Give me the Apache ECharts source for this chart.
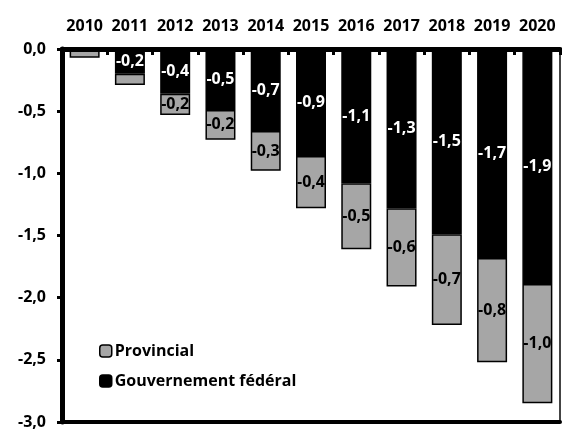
<!DOCTYPE html>
<html><head><meta charset="utf-8">
<script src="https://cdn.jsdelivr.net/npm/echarts@6/dist/echarts.min.js"></script>
<style>html,body{margin:0;padding:0;background:#fff}#c{width:562px;height:430px}</style>
</head><body><div id="c"></div>
<script>
var years = ['2010','2011','2012','2013','2014','2015','2016','2017','2018','2019','2020'];
var federal = [-0.01,-0.2,-0.36,-0.49,-0.66,-0.86,-1.08,-1.28,-1.49,-1.68,-1.89];
var provincial = [-0.06,-0.09,-0.17,-0.24,-0.32,-0.42,-0.53,-0.63,-0.73,-0.84,-0.96];
var yMin = -3.0, yMax = 0, yStep = 0.5;
var FONT = 'Open Sans';
function fmt(v){ return v.toFixed(1).replace('.', ','); }
function lab(p){ return Math.abs(p.value) < 0.15 ? '' : fmt(p.value); }
var chart = echarts.init(document.getElementById('c'), null, {renderer:'canvas'});
chart.setOption({
  animation:false,
  textStyle:{fontFamily:FONT},
  grid:{left:62, right:2, top:49, bottom:4, containLabel:false},
  legend:{
    orient:'vertical', left:94, top:338, itemWidth:12, itemHeight:12, itemGap:14, padding:5,
    data:['Provincial','Gouvernement fédéral'],
    textStyle:{fontFamily:FONT, fontWeight:'bold', fontSize:16, color:'#000', padding:[0,0,0,-2]},
    itemStyle:{borderColor:'#000', borderWidth:1.5}
  },
  xAxis:[{
    type:'category', data:years, position:'top', z:10,
    axisLine:{show:true, onZero:false, lineStyle:{color:'#000', width:5}},
    axisTick:{show:true, inside:true, length:6, lineStyle:{color:'#000', width:3}},
    axisLabel:{interval:0, fontFamily:FONT, fontWeight:'bold', fontSize:16, color:'#000', margin:15}
  },{
    type:'category', data:years, position:'bottom',
    axisLine:{show:true, onZero:false, lineStyle:{color:'#000', width:4}},
    axisTick:{show:false}, axisLabel:{show:false}
  }],
  yAxis:[{
    type:'value', min:yMin, max:yMax, interval:yStep, position:'left',
    splitLine:{show:false},
    axisLine:{show:true, onZero:false, lineStyle:{color:'#000', width:5}},
    axisTick:{show:true, length:5, lineStyle:{color:'#000', width:3}},
    axisLabel:{fontFamily:FONT, fontWeight:'bold', fontSize:16, color:'#000', margin:16, formatter:function(v){return fmt(v);}}
  },{
    type:'value', min:yMin, max:yMax, interval:yStep, position:'right',
    splitLine:{show:false},
    axisLine:{show:true, onZero:false, lineStyle:{color:'#444', width:2}},
    axisTick:{show:false}, axisLabel:{show:false}
  }],
  series:[{
    name:'Gouvernement fédéral', type:'bar', stack:'t', data:federal, barWidth:30,
    itemStyle:{color:'#000', borderColor:'#000', borderWidth:1.5},
    label:{show:true, position:'inside', color:'#fff', fontFamily:FONT, fontWeight:'bold', fontSize:16, formatter:lab}
  },{
    name:'Provincial', type:'bar', stack:'t', data:provincial, barWidth:30,
    itemStyle:{color:'#a6a6a6', borderColor:'#000', borderWidth:1.5},
    label:{show:true, position:'inside', color:'#000', fontFamily:FONT, fontWeight:'bold', fontSize:16, formatter:lab}
  }]
});
</script></body></html>
